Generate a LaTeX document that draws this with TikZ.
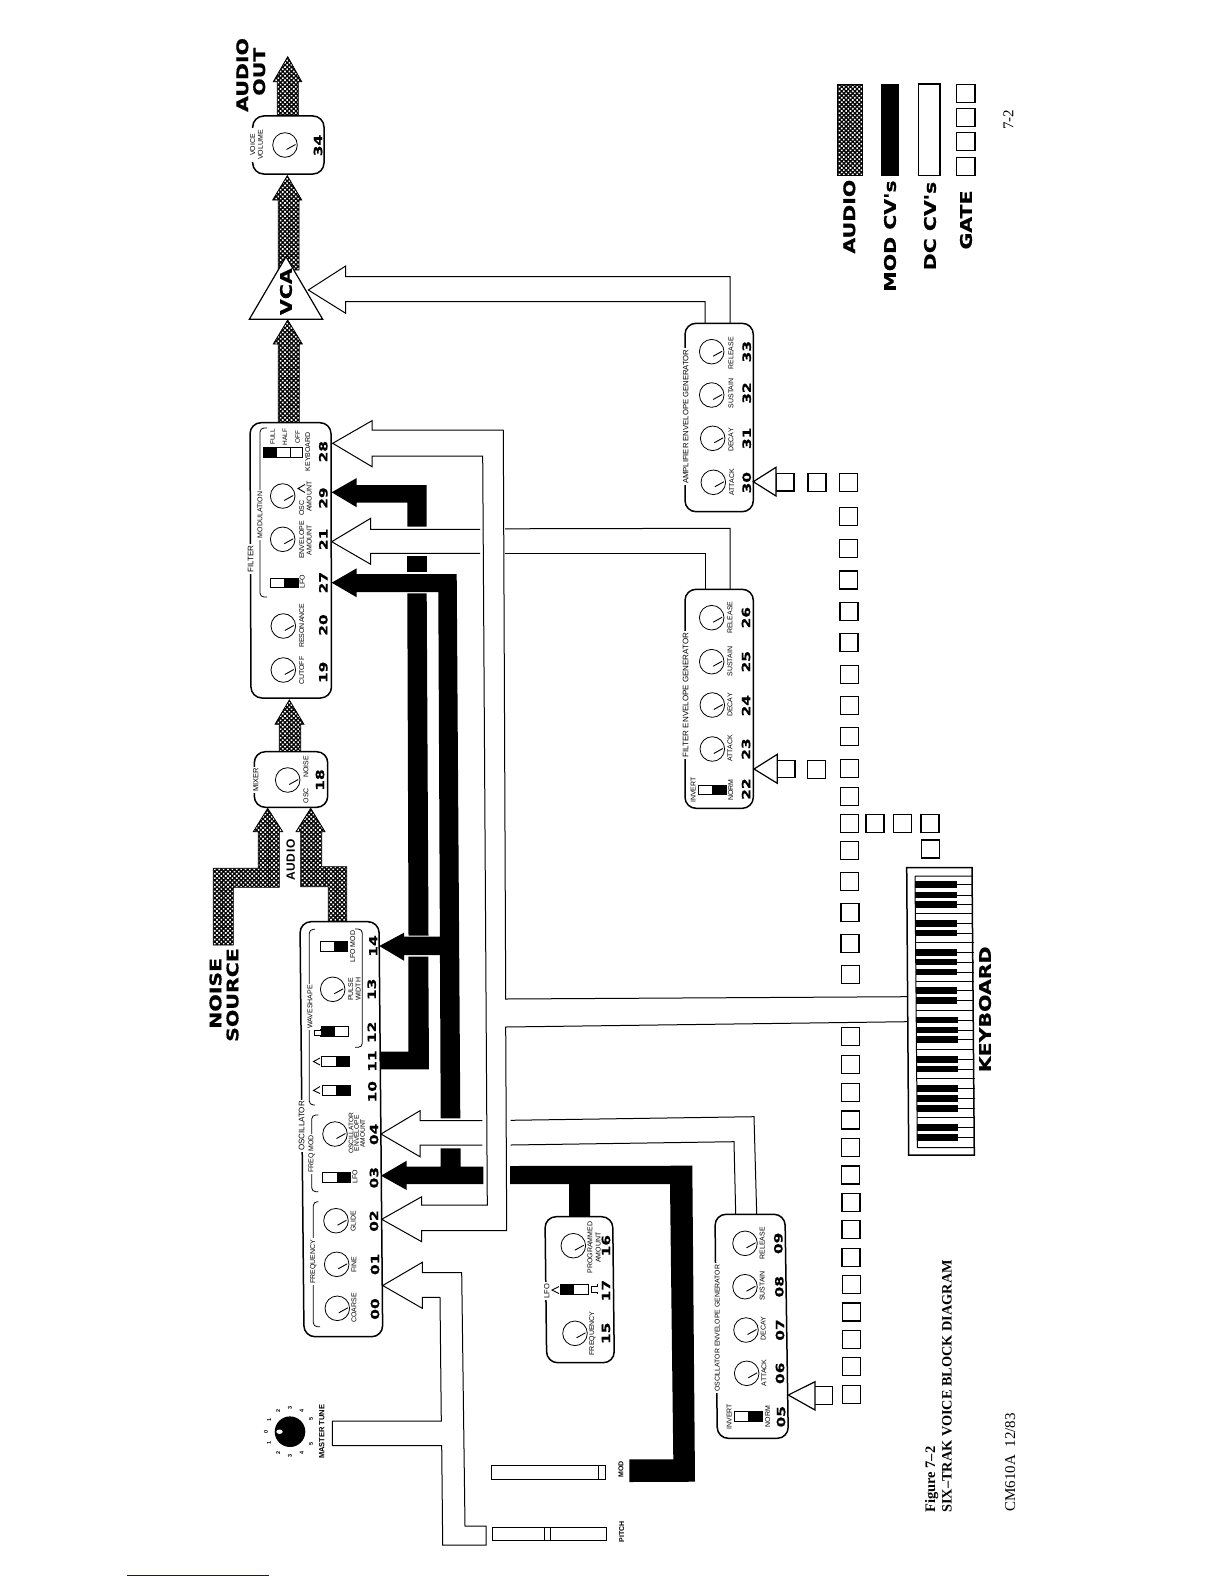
\documentclass[tikz,border=0pt]{standalone}
\usepackage{fontspec}
\usepackage{graphicx}
\setmainfont{Liberation Serif}
\setsansfont{Liberation Sans}
\newfontfamily\hdfont[BoldFeatures={FakeBold=0.5}]{DejaVu Sans}
\usetikzlibrary{patterns.meta}
\definecolor{navyline}{RGB}{16,16,140}
\newcounter{tc}
\tikzset{
  lbl/.style={rotate=90,inner sep=0pt,font=\sffamily\fontsize{7}{7}\selectfont},
  gapl/.style={rotate=90,inner sep=1.5pt,fill=white,font=\sffamily\fontsize{7.5}{7.5}\selectfont},
  numl/.style={rotate=90,inner sep=0pt,font=\hdfont\bfseries\fontsize{11.4}{11.4}\selectfont},
  hdl/.style={rotate=90,inner sep=0pt,font=\hdfont\bfseries\fontsize{16}{16}\selectfont},
  audiofill/.style={draw=black,line width=.8pt,preaction={fill=black},pattern={Dots[radius=1.15pt,distance=3.1pt,angle=45]},pattern color=white},
  modfill/.style={fill=black,draw=none},
  dcline/.style={draw=black,line width=1pt,line join=miter},
  boxln/.style={draw=black,fill=white,line width=1.5pt,rounded corners=11pt},
  brk/.style={draw=black,line width=.8pt,rounded corners=4pt},
  gatebox/.style={draw=black,fill=white,line width=1.2pt},
  knobc/.style={draw=black,line width=.8pt,fill=white},
  swbox/.style={draw=black,fill=white,line width=.8pt},
  wave/.style={draw=black,line width=.9pt}
}
\newcommand{\lb}[4][7]{\stepcounter{tc}\node[lbl,font=\sffamily\fontsize{#1}{#1}\selectfont] (t\arabic{tc}) at (#2,#3) {#4};}
\newcommand{\bl}[3]{\stepcounter{tc}\node[lbl,font=\sffamily\bfseries\fontsize{7}{7}\selectfont] (t\arabic{tc}) at (#1,#2) {#3};}
\newcommand{\gp}[4][7.5]{\stepcounter{tc}\node[gapl,font=\sffamily\fontsize{#1}{#1}\selectfont] (t\arabic{tc}) at (#2,#3) {#4};}
\newcommand{\nm}[3]{\stepcounter{tc}\node[numl] (t\arabic{tc}) at (#1,#2) {\scalebox{1.35}[1]{#3}};}
\newcommand{\hd}[3]{\stepcounter{tc}\node[hdl] (t\arabic{tc}) at (#1,#2) {\scalebox{1.28}[1]{#3}};}
\newcommand{\knob}[2]{\draw[knobc] (#1,#2) circle (12.3pt);\draw[black,line width=.9pt] ({#1+1.5},{#2+4.5}) -- ({#1+10.5},{#2-0.5});}
% switch, black half on the right (larger x)
\newcommand{\swr}[4]{\draw[swbox] (#1,#2) rectangle (#3,#4);\fill[black] ({(#1+#3)/2},#2) rectangle (#3,#4);}
% switch, black half on the left
\newcommand{\swl}[4]{\draw[swbox] (#1,#2) rectangle (#3,#4);\fill[black] (#1,#2) rectangle ({(#1+#3)/2},#4);}
\newcommand{\gs}[2]{\draw[gatebox] ({#1-9},{#2-9}) rectangle ({#1+9},{#2+9});}
\begin{document}
\begin{tikzpicture}[x=1pt,y=-1pt]
\useasboundingbox (0,0) rectangle (1224,1584);
\fill[white] (0,0) rectangle (1224,1584);

% ---------- named arrow tips
\coordinate (tipOut) at (287.7,56.7);
\coordinate (tip34) at (287.3,175.7);
\coordinate (tipVCA) at (287.7,320);
\coordinate (tipFilt) at (289.3,700);
\coordinate (tipMixA) at (267.7,808.3);
\coordinate (tipMixB) at (310.7,808.3);
\coordinate (tip29) at (331.7,492.3);
\coordinate (tip27) at (331.7,582.7);
\coordinate (tip14) at (379.3,946);
\coordinate (tip03) at (381,1175.7);
\coordinate (tipCV) at (308.3,290);
\coordinate (tip28) at (332.7,443.3);
\coordinate (tip21) at (331.7,541.7);
\coordinate (tip04) at (381,1134);
\coordinate (tip02) at (381.7,1219.3);
\coordinate (tip00) at (382.7,1285.5);
\coordinate (tipAmp) at (753.3,481.7);
\coordinate (tipFE) at (754,769);
\coordinate (tipOE) at (788.3,1395);

% ---------- audio paths
\path[audiofill] (tipOut) -- (301.7,81.7) -- (298.3,81.7) -- (298.3,116) -- (277.3,116) -- (277.3,81.7) -- (273.3,81.7) -- cycle;
\path[audiofill] (tip34) -- (301.7,200) -- (299,200) -- (299,270) -- (278.3,270) -- (278.3,200) -- (272.7,200) -- cycle;
\path[audiofill] (tipVCA) -- (302.3,344) -- (299.3,344) -- (299.3,423) -- (278.3,423) -- (278.3,344) -- (273.3,344) -- cycle;
\path[audiofill] (tipFilt) -- (304,724.3) -- (300.7,724.3) -- (300.7,752) -- (279.3,752) -- (279.3,724.3) -- (275,724.3) -- cycle;
\path[audiofill] (tipMixA) -- (282.7,831.7) -- (279.3,831.7) -- (279.3,887.3) -- (233.3,887.3) -- (233.3,945) -- (213.3,945) -- (213.3,868.3) -- (258.3,868.3) -- (258.3,831.7) -- (253.3,831.7) -- cycle;
\path[audiofill] (tipMixB) -- (325,831.7) -- (321.7,831.7) -- (321.7,866.7) -- (346.7,866.7) -- (346.7,922) -- (328.3,922) -- (328.3,886.7) -- (300.7,886.7) -- (300.7,831.7) -- (296,831.7) -- cycle;

% ---------- mod CV paths
\path[modfill] (tip29) -- (356.7,478) -- (356.7,485) -- (426.7,485) -- (426.7,526.7) -- (407.3,526.7) -- (407.3,502.7) -- (356.7,502.7) -- (356.7,507.3) -- cycle;
\path[modfill] (407.3,556) rectangle (426.7,571.7);
\path[modfill] (tip27) -- (356.7,568.3) -- (356.7,574) -- (456.7,574) -- (460.3,1118.3) -- (440.7,1118.3) -- (438.3,592) -- (356.7,592) -- (356.7,597.3) -- cycle;
\path[modfill] (407.3,593.3) -- (426.7,593.3) -- (428.5,935.7) -- (408.5,935.7) -- cycle;
\path[modfill] (tip14) -- (404,932.7) -- (404,936.7) -- (441,936.7) -- (441,955) -- (404,955) -- (404,960.7) -- cycle;
\path[modfill] (408.3,956.7) -- (428.3,956.7) -- (429,1069.3) -- (380,1069.3) -- (380,1051.7) -- (408.3,1051.7) -- cycle;
\path[modfill] (tip03) -- (406.7,1160.7) -- (406.7,1166.7) -- (440.7,1166.7) -- (440.7,1148.3) -- (460.7,1148.3) -- (460.7,1166.7) -- (483.3,1166.7) -- (483.3,1184) -- (406.7,1184) -- (406.7,1190) -- cycle;
\path[modfill] (510,1166) -- (692.3,1165.7) -- (695,1481.7) -- (629.3,1482) -- (629.3,1459.3) -- (673.3,1459.3) -- (670,1184) -- (590,1184) -- (590,1217) -- (569,1217) -- (569,1184) -- (510,1184) -- cycle;

% ---------- DC CV paths
\draw[dcline] (730,323.3) -- (730,276.7) -- (345.7,276.7) -- (345.7,266) -- (tipCV) -- (345.7,313.3) -- (345.7,301.7) -- (705,301.7) -- (705,323.3);
\draw[dcline] (503.3,430) -- (372,430) -- (372,420.7) -- (tip28) -- (372,466.7) -- (372,456) -- (482.7,456) -- (487.3,1205) -- (421.7,1205) -- (421.7,1196.7) -- (tip02) -- (421.7,1241.7) -- (421.7,1230.7) -- (506.7,1230.7) -- (505.7,1027) -- (907.3,1021.7);
\draw[dcline] (503.3,430) -- (505.7,999) -- (907.3,996.7);
\draw[dcline] (480,529.3) -- (370.7,529.3) -- (370.7,518.3) -- (tip21) -- (370.7,564.3) -- (370.7,553.3) -- (480,553.3);
\draw[dcline] (505,528.8) -- (730,528.3) -- (730,589.3);
\draw[dcline] (505,553.3) -- (705,553.3) -- (705,589.3);
\draw[dcline] (482.3,1120.7) -- (420,1120.7) -- (420,1110.7) -- (tip04) -- (420,1156.7) -- (420,1145) -- (482.3,1145);
\draw[dcline] (510.7,1120.3) -- (754,1116.7) -- (756.7,1214.3);
\draw[dcline] (510.7,1145) -- (734,1141.7) -- (735.7,1214.3);
\draw[dcline] (440,1297.3) -- (422.3,1297.3) -- (422.3,1308.3) -- (tip00) -- (422.3,1262.3) -- (422.3,1272.7) -- (461.7,1272.7) -- (465,1526) -- (486,1526) -- (486,1545) -- (442.7,1545) -- (441.7,1445.7) -- (332.3,1445.7) -- (332.3,1421) -- (441.3,1421) -- (440,1297.3);

% ---------- boxes
\draw[boxln] (250,422.7) -- (331,422.7) -- (331.5,698) -- (251,698) -- cycle;
\draw[boxln] (252.7,116) -- (324,116) -- (324,174) -- (252.7,174) -- cycle;
\draw[boxln] (254.3,751.7) -- (327.7,751.7) -- (327.7,807.3) -- (254.3,807.3) -- cycle;
\draw[boxln] (300,921.7) -- (379,921.7) -- (382.7,1336.7) -- (304,1336.7) -- cycle;
\draw[boxln] (545,1216.7) -- (612.7,1216.7) -- (614.3,1362.7) -- (546.7,1362.7) -- cycle;
\draw[boxln] (715,1214.3) -- (785,1214.3) -- (788.3,1438.3) -- (717.3,1438.3) -- cycle;
\draw[boxln] (685,323.3) -- (753.3,323.3) -- (753.3,511.7) -- (685,511.7) -- cycle;
\draw[boxln] (685,589.3) -- (753.3,589.3) -- (753.3,808.3) -- (685,808.3) -- cycle;
\draw[black,line width=1.2pt,fill=white,line join=miter] (286,256.7) -- (322.7,319.3) -- (249.3,319.3) -- cycle;

% ---------- brackets
\draw[brk] (267,428) -- (260,428) -- (260,597) -- (267,597);
\draw[brk] (315,929.3) -- (309.3,929.3) -- (309.3,1105) -- (315,1105);
\draw[brk] (355,929) -- (362.3,929) -- (362.3,1047.3) -- (355,1047.3);
\draw[brk] (318.3,1115) -- (311.7,1115) -- (311.7,1191.7) -- (318.3,1191.7);
\draw[brk] (318.3,1201.7) -- (313.3,1201.7) -- (313.3,1326.7) -- (320,1326.7);
\fill[white] (249,128) rectangle (256,162);

% ---------- knobs
\knob{285}{145}
\knob{282.7}{496}\knob{282.7}{539.3}\knob{283.3}{626}\knob{283.3}{670}
\knob{287.7}{780}
\knob{332.7}{989.3}\knob{335}{1134}\knob{336}{1220.7}\knob{336.7}{1264.3}\knob{337.3}{1308.3}
\knob{573.3}{1245.7}\knob{575}{1333.3}
\knob{745}{1243.3}\knob{745}{1286.7}\knob{746}{1330}\knob{746.7}{1373.3}
\knob{711.7}{351.7}\knob{711.7}{395}\knob{712.7}{438.3}\knob{713.3}{482.3}
\knob{711.7}{617.7}\knob{711.7}{661.7}\knob{712.3}{705}\knob{712.3}{749}

% ---------- switches
\draw[swbox] (263,447.7) rectangle (302,457.7);
\fill[black] (263,447.7) rectangle (276.3,457.7);
\draw[black,line width=.8pt] (276.3,447.7) -- (276.3,457.7) (290,447.7) -- (290,457.7);
\swr{270}{578.3}{298.3}{587.7}
\swr{320}{941}{347.7}{951}
\swl{321}{1026.7}{348.3}{1036.7}
\swr{321.7}{1056.7}{349.3}{1066.7}
\swr{322.3}{1085.7}{350}{1095.7}
\swr{322.7}{1172.3}{350.7}{1182.7}
\swl{560}{1284.3}{588.3}{1294.3}
\swr{734.3}{1411.7}{762.3}{1421.7}
\swr{698.3}{785}{726}{794.3}

% ---------- waveform marks
\draw[wave] (320,1029) -- (320,1030.5) -- (314.5,1030.5) -- (314.5,1035) -- (320,1035) -- (320,1037);
\draw[wave] (320,1058) -- (313.5,1061.5) -- (320,1065);
\draw[wave] (320,1086.5) -- (313.5,1090.5) -- (320,1093.5);
\draw[wave] (559,1286.5) -- (552,1290) -- (559,1293.5);
\draw[wave] (597,1284) -- (597,1286) -- (591,1286) -- (591,1292) -- (597,1292) -- (597,1294);
\draw[wave] (305,484.5) -- (298,488.5) -- (305,492.5);

% ---------- gate squares
\foreach \yy in {482.3,516.7,548.3,580,611.7,642.7,674.3,705.7,736.7,768.3,796.7,823.3,850.7,881.7,912.3,943.3,974.3,1036.7,1064.3,1092.3,1120,1147.7,1175,1202.3,1229.7,1257.3,1284.7,1312,1339.3,1366.7,1394.3}{
  \draw[gatebox] ({848.5+(\yy-482)/300-9},{\yy-9}) rectangle ({848.5+(\yy-482)/300+9},{\yy+9});
}
\gs{817}{482.3}\gs{816.7}{769.2}
\gs{875}{823.3}\gs{902.7}{823.3}\gs{930}{823.3}\gs{930.3}{849}
\draw[gatebox] (776,473.3) rectangle (794,491);
\draw[gatebox] (777.3,760.7) rectangle (795,777.7);
\draw[gatebox] (814,1386.7) rectangle (832.3,1404.3);
\draw[gatebox] (tipAmp) -- (776,467.3) -- (776,496) -- cycle;
\draw[gatebox] (tipFE) -- (777.3,754.3) -- (777.3,783.3) -- cycle;
\draw[gatebox] (tipOE) -- (815,1381.7) -- (815,1410) -- cycle;

% ---------- keyboard
\draw[black,line width=1.5pt,fill=white] (906.7,867.7) -- (972,867.7) -- (974.3,1155) -- (908.7,1155) -- cycle;
\draw[black,line width=1pt] (915,876) -- (973,876) (915,876) -- (917.3,1147.7) -- (974,1147.7);
\foreach \k in {313,345,373,430,459,517,546,576,632,662,720,750,779,838,867,925,955,985,1043,1072}{
  \fill[black] ({915+(\k-288)/815*2},{780+\k/3-3.2}) rectangle ({956.5+(\k-288)/815*2},{780+\k/3+3.2});
  \draw[black,line width=.7pt] ({956+(\k-288)/815*2},{780+\k/3}) -- ({973+(\k-288)/815*2},{780+\k/3});
}
\foreach \k in {401,488,604,691,808,895,1013}{
  \draw[black,line width=.7pt] ({915+(\k-288)/815*2},{780+\k/3}) -- ({973+(\k-288)/815*2},{780+\k/3});
}

% ---------- sliders
\draw[black,line width=.9pt] (492.3,1527.3) rectangle (606,1540.7);
\draw[black,line width=.9pt] (544,1527.3) -- (544,1540.7) (550.7,1527.3) -- (550.7,1540.7);
\draw[black,line width=.9pt] (491.7,1465) rectangle (605,1479);
\draw[black,line width=.9pt] (598.3,1465) -- (598.3,1479);

% ---------- master tune
\fill[black] (290,1431.7) circle (15.3pt);
\fill[white] (279.5,1431.7) ellipse (3.2pt and 2.2pt);
\foreach \px/\py/\tx in {266/1431.7/0,269.3/1420/1,278.3/1411/2,290/1408.3/3,301.7/1411/4,311/1419/5,269/1443.3/1,278.3/1453.3/2,290/1455.7/3,301.7/1453.3/4,311/1444.3/5}{
  \stepcounter{tc}\node[lbl,font=\sffamily\bfseries\fontsize{5.5}{5.5}\selectfont] (t\arabic{tc}) at (\px,\py) {\tx};
}
\bl{321.7}{1431.7}{\fontsize{7.5}{7.5}\selectfont MASTER TUNE}
\bl{621.7}{1531.7}{PITCH}
\bl{621}{1469.3}{MOD}

% ---------- legend
\path[audiofill] (837.3,84) rectangle (862.3,175.7);
\fill[black] (880.7,84) rectangle (899,175.7);
\draw[black,line width=1.4pt] (918.3,84) rectangle (940,175.7);
\draw[gatebox] (956.7,84.3) rectangle (975,102.3);
\draw[gatebox] (956.7,108.7) rectangle (975,126.7);
\draw[gatebox] (956.7,132.7) rectangle (975,150.7);
\draw[gatebox] (956.7,157.7) rectangle (975,175.7);
\hd{849.3}{216.7}{AUDIO}
\hd{890}{236}{MOD CV's}
\hd{930}{226}{DC CV's}
\hd{966}{220}{GATE}

% ---------- headings
\hd{242.3}{75}{AUDIO}
\hd{259.2}{71.7}{OUT}
\hd{215.5}{993.3}{NOISE}
\hd{232.5}{995}{SOURCE}
\hd{985}{1009.3}{KEYBOARD}
\hd{286}{291.7}{VCA}
\stepcounter{tc}\node[lbl,font=\sffamily\bfseries\fontsize{12}{12}\selectfont] (t\arabic{tc}) at (290.7,860) {A\kern.7pt U\kern.7pt D\kern.7pt I\kern.7pt O};

% ---------- voice volume, mixer
\lb{252.6}{145}{VOICE}
\lb{260.5}{145}{VOLUME}
\nm{318}{145.5}{34}
\gp{255.7}{780}{MIXER}
\lb{306}{795.7}{OSC}
\lb{306}{766.7}{NOISE}
\nm{320}{780}{18}

% ---------- filter
\gp[8]{250.5}{559}{FILTER}
\gp[7]{260}{515}{MODULATION}
\lb[6.5]{272.7}{437}{FULL}
\lb[6.5]{285}{437}{HALF}
\lb[6.5]{297.7}{437}{OFF}
\lb{307.7}{451.7}{KEYBOARD}
\nm{323.3}{451.7}{28}
\lb{301.7}{508}{OSC}
\lb{309.3}{496.7}{AMOUNT}
\nm{323.3}{498}{29}
\lb{301.7}{540}{ENVELOPE}
\lb{309.3}{540}{AMOUNT}
\nm{323.3}{539.3}{21}
\lb{302.3}{581.7}{LFO}
\nm{323.3}{582.7}{27}
\lb{301.7}{625.7}{RESONANCE}
\nm{323.3}{625}{20}
\lb{301.7}{670.7}{CUTOFF}
\nm{323.3}{672.3}{19}

% ---------- oscillator
\gp[8]{301.7}{1126}{OSCILLATOR}
\gp[7]{310}{1007}{WAVESHAPE}
\gp[7]{311.7}{1154}{FREQ MOD}
\gp[7]{313.3}{1261.7}{FREQUENCY}
\lb{352.7}{946.7}{LFO MOD}
\lb{350.7}{989.3}{PULSE}
\lb{358.3}{989.3}{WIDTH}
\lb[6.6]{351}{1133.3}{OSCILLATOR}
\lb[6.6]{356.7}{1133.3}{ENVELOPE}
\lb[6.6]{362.7}{1133.3}{AMOUNT}
\lb{355}{1176.7}{LFO}
\lb{353.3}{1221}{GLIDE}
\lb{354}{1264.3}{FINE}
\lb{354}{1308}{COARSE}
\nm{373.3}{946}{14}
\nm{371.7}{989.3}{13}
\nm{371.7}{1032.3}{12}
\nm{372.3}{1061}{11}
\nm{372.3}{1091.7}{10}
\nm{374}{1134.3}{04}
\nm{374}{1177.7}{03}
\nm{374}{1221}{02}
\nm{375}{1264.3}{01}
\nm{375}{1309}{00}

% ---------- LFO
\gp[7.5]{546.7}{1291}{LFO}
\lb{590}{1247.7}{PROGRAMMED}
\lb{598.3}{1247.7}{AMOUNT}
\lb{592.3}{1333.3}{FREQUENCY}
\nm{606}{1245.7}{16}
\nm{606}{1290.7}{17}
\nm{606}{1333.3}{15}

% ---------- oscillator envelope
\gp[6.9]{717.3}{1328.3}{OSCILLATOR ENVELOPE GENERATOR}
\lb{762.3}{1243.3}{RELEASE}
\lb{762.3}{1286}{SUSTAIN}
\lb{763.3}{1328.3}{DECAY}
\lb{764}{1372.7}{ATTACK}
\lb{729.3}{1416.7}{INVERT}
\lb{767.7}{1416.7}{NORM}
\nm{778.3}{1243.3}{09}
\nm{779.3}{1286.7}{08}
\nm{780}{1330}{07}
\nm{780}{1373.3}{06}
\nm{781}{1416.7}{05}

% ---------- amplifier envelope
\gp[7.7]{685.7}{416.7}{AMPLIFIER ENVELOPE GENERATOR}
\lb{731}{353.3}{RELEASE}
\lb{731}{393.3}{SUSTAIN}
\lb{731}{440}{DECAY}
\lb{731.7}{482.3}{ATTACK}
\nm{746.7}{351.7}{33}
\nm{746.7}{393}{32}
\nm{746.7}{438.3}{31}
\nm{746.7}{482.7}{30}

% ---------- filter envelope
\gp[8]{685.7}{695}{FILTER ENVELOPE GENERATOR}
\lb{730}{617.7}{RELEASE}
\lb{730}{661.7}{SUSTAIN}
\lb{730}{705}{DECAY}
\lb{730}{748.3}{ATTACK}
\lb{693.3}{790}{INVERT}
\lb{730.7}{790}{NORM}
\nm{746}{617.7}{26}
\nm{746}{661.7}{25}
\nm{746}{705.7}{24}
\nm{746}{749}{23}
\nm{746}{789}{22}

% ---------- captions
\node[rotate=90,anchor=base west,inner sep=0pt,font=\rmfamily\bfseries\fontsize{14.5}{14.5}\selectfont] (figa) at (935,1513) {Figure 7--2};
\node[rotate=90,anchor=base west,inner sep=0pt,font=\rmfamily\bfseries\fontsize{14.3}{14.3}\selectfont] (figb) at (951.5,1513) {SIX--TRAK VOICE BLOCK DIAGRAM};
\node[rotate=90,anchor=base west,inner sep=0pt,font=\rmfamily\fontsize{15}{15}\selectfont] (figc) at (1015,1511.7) {CM610A\ \ 12/83};
\node[rotate=90,inner sep=0pt,font=\rmfamily\fontsize{15}{15}\selectfont] (pg) at (1008.3,120) {7-2};
\draw[navyline,line width=1pt] (126.7,1575.3) -- (269,1575.3);
\end{tikzpicture}
\end{document}
